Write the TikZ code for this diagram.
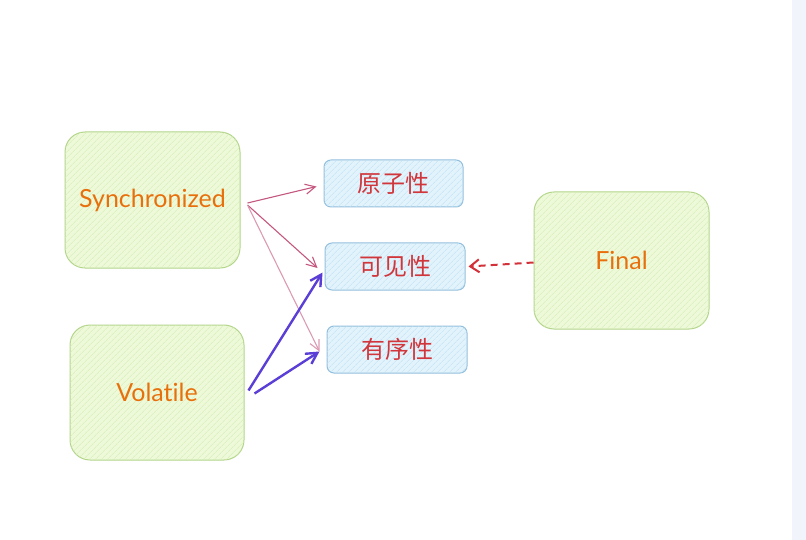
\documentclass[tikz,border=0pt]{standalone}
\usepackage{fontspec}
\setmainfont{Lato}[Ligatures=NoCommon]
\newfontfamily\cjk{Noto Sans CJK SC}
\usetikzlibrary{arrows.meta,calc,patterns.meta}
\definecolor{gfill}{HTML}{EDF9D9}
\definecolor{ghatch}{HTML}{D3EEB2}
\definecolor{gdraw}{HTML}{B3D58B}
\definecolor{bfill}{HTML}{E2F3FB}
\definecolor{bhatch}{HTML}{BDE1F4}
\definecolor{bdraw}{HTML}{93BEDD}
\definecolor{otext}{HTML}{E8700C}
\definecolor{rtext}{HTML}{D0363B}
\definecolor{pinkarr}{HTML}{C4577F}
\definecolor{purparr}{HTML}{5B3ED6}
\definecolor{redarr}{HTML}{D3313A}
\definecolor{strip}{HTML}{F1F4FA}
\tikzset{
  bigbox/.style={draw=gdraw, line width=1pt, rounded corners=20pt, fill=gfill,
    postaction={pattern={Lines[angle=45,distance=4pt,line width=0.5pt]}, pattern color=ghatch},
    text=otext, font=\fontsize{25}{28}\selectfont,
    minimum width=175pt, minimum height=136pt, inner sep=0pt},
  propbox/.style={draw=bdraw, line width=1pt, rounded corners=7pt, fill=bfill,
    postaction={pattern={Lines[angle=45,distance=4pt,line width=0.5pt]}, pattern color=bhatch},
    text=rtext, font=\cjk\fontsize{24}{26}\selectfont,
    minimum width=140pt, minimum height=47pt, inner sep=0pt},
  pinkline/.style={draw=pinkarr, line width=1.1pt, -{Straight Barb[length=10pt,width=10pt]}},
  purpline/.style={draw=purparr, line width=2.4pt, -{Straight Barb[length=11pt,width=12pt]}},
  redline/.style={draw=redarr, line width=2pt, dash pattern=on 7pt off 5pt, -{Straight Barb[length=9pt,width=13pt]}}
}
\begin{document}
\begin{tikzpicture}[x=1pt,y=-1pt]
\useasboundingbox (0,0) rectangle (806,540);
\fill[strip] (792,0) rectangle (806,540);
% big boxes
\node[bigbox] (sync) at (152.5,200) {Synchronized};
\node[bigbox, minimum width=174pt, minimum height=135pt] (vol) at (157,392.5) {Volatile};
\node[bigbox, minimum height=137pt] (fin) at (621.5,260.5) {Final};
% property boxes
\node[propbox, minimum width=139pt] (yz) at (393.5,183.5) {原子性};
\node[propbox] (kj) at (395,266.5) {可见性};
\node[propbox] (yx) at (397,349.5) {有序性};
% arrows
\draw[pinkline] ($(sync.east)+(7,3)$) -- ($(yz.west)+(-7,3)$);
\draw[pinkline] ($(sync.east)+(7,5)$) -- ($(kj.west)+(-7,1.5)$);
\draw[pinkline, draw=pinkarr!60] ($(sync.east)+(7,5)$) -- ($(yx.west)+(-7,2)$);
\draw[purpline] ($(vol.east)+(4,-2)$) -- ($(kj.west)+(-2,6)$);
\draw[purpline] ($(vol.east)+(10,1)$) -- ($(yx.west)+(-7,2)$);
\draw[redline] ($(fin.west)+(0,2)$) -- ($(kj.east)+(3,0)$);
\end{tikzpicture}
\end{document}
